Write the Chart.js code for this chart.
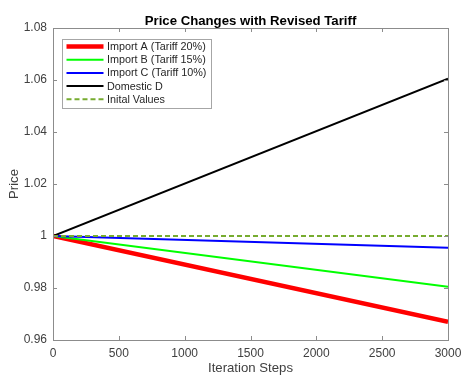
<!DOCTYPE html>
<html>
<head>
<meta charset="utf-8">
<script src="https://cdn.jsdelivr.net/npm/chart.js@4/dist/chart.umd.min.js"></script>
<style>
  html, body { margin: 0; padding: 0; background: #ffffff; }
  #wrap { width: 474px; height: 380px; }
</style>
</head>
<body>
<div id="wrap"><canvas id="c" width="474" height="380"></canvas></div>
<script>
// ---- data ----
const iterationSteps = [0, 3000];
const importA   = [1.0000, 0.9670];
const importB   = [1.0000, 0.9805];
const importC   = [1.0000, 0.9955];
const domesticD = [1.0000, 1.0605];
const initialValues = [1.0000, 1.0000];

const seriesLabels = ['Import A (Tariff 20%)', 'Import B (Tariff 15%)', 'Import C (Tariff 10%)', 'Domestic D', 'Inital Values'];
const xTickValues = [0, 500, 1000, 1500, 2000, 2500, 3000];
const yTickValues = [0.96, 0.98, 1, 1.02, 1.04, 1.06, 1.08];
const chartTitle = 'Price Changes with Revised Tariff';
const xTitle = 'Iteration Steps';
const yTitle = 'Price';

const FONT = "'Liberation Sans', Arial, Helvetica, sans-serif";
const AXIS_COLOR = '#8c8c8c';
const TEXT_COLOR = '#404040';

function pts(ys) { return iterationSteps.map((x, i) => ({ x: x, y: ys[i] })); }

const datasets = [
  { label: seriesLabels[0], data: pts(importA),   borderColor: '#ff0000', borderWidth: 4.5, order: 5 },
  { label: seriesLabels[1], data: pts(importB),   borderColor: '#00ff00', borderWidth: 2, order: 4 },
  { label: seriesLabels[2], data: pts(importC),   borderColor: '#0000ff', borderWidth: 2, order: 3 },
  { label: seriesLabels[3], data: pts(domesticD), borderColor: '#000000', borderWidth: 2, order: 2 },
  { label: seriesLabels[4], data: pts(initialValues), borderColor: '#77ac30', borderWidth: 2, borderDash: [5, 3], order: 1 }
].map(d => Object.assign({ pointRadius: 0, fill: false, tension: 0, borderCapStyle: 'butt' }, d));

const frameAndLegend = {
  id: 'frameAndLegend',
  afterDatasetsDraw(chart) {
    const ctx = chart.ctx, a = chart.chartArea;
    const xs = chart.scales.x, ys = chart.scales.y;
    ctx.save();
    // box
    ctx.strokeStyle = AXIS_COLOR;
    ctx.lineWidth = 1;
    ctx.strokeRect(Math.round(a.left) + 0.5, Math.round(a.top) + 0.5,
                   Math.round(a.right - a.left), Math.round(a.bottom - a.top));
    // inward ticks
    const tl = 4;
    ctx.beginPath();
    xTickValues.forEach(v => {
      const px = Math.round(xs.getPixelForValue(v)) + 0.5;
      ctx.moveTo(px, a.bottom); ctx.lineTo(px, a.bottom - tl);
      ctx.moveTo(px, a.top); ctx.lineTo(px, a.top + tl);
    });
    yTickValues.forEach(v => {
      const py = Math.round(ys.getPixelForValue(v)) + 0.5;
      ctx.moveTo(a.left, py); ctx.lineTo(a.left + tl, py);
      ctx.moveTo(a.right, py); ctx.lineTo(a.right - tl, py);
    });
    ctx.stroke();

    // legend
    const lx = Math.round(a.left) + 9.5, ly = Math.round(a.top) + 11.5;
    const lw = 149, lh = 69;
    ctx.fillStyle = '#ffffff';
    ctx.fillRect(lx, ly, lw, lh);
    ctx.strokeStyle = '#a6a6a6';
    ctx.strokeRect(lx, ly, lw, lh);
    ctx.font = '10.8px ' + FONT;
    ctx.textBaseline = 'middle';
    ctx.textAlign = 'left';
    chart.data.datasets.forEach((d, i) => {
      const cy = ly + 7 + i * 13.2;
      ctx.beginPath();
      ctx.strokeStyle = d.borderColor;
      ctx.lineWidth = d.borderWidth;
      ctx.setLineDash(d.borderDash || []);
      ctx.moveTo(lx + 4, cy); ctx.lineTo(lx + 41, cy);
      ctx.stroke();
      ctx.setLineDash([]);
      ctx.fillStyle = '#262626';
      ctx.fillText(d.label, lx + 44.5, cy + 0.5);
    });

    // title
    ctx.font = 'bold 13.2px ' + FONT;
    ctx.fillStyle = '#000000';
    ctx.textAlign = 'center';
    ctx.textBaseline = 'alphabetic';
    ctx.fillText(chartTitle, (a.left + a.right) / 2, 24.5);
    ctx.restore();
  }
};

new Chart(document.getElementById('c'), {
  type: 'line',
  data: { datasets: datasets },
  options: {
    responsive: false,
    animation: false,
    layout: { padding: { top: 28, right: 26, left: 0, bottom: 0 } },
    plugins: { legend: { display: false }, title: { display: false }, tooltip: { enabled: false } },
    scales: {
      x: {
        type: 'linear', min: 0, max: 3000,
        afterBuildTicks: s => { s.ticks = xTickValues.map(v => ({ value: v })); },
        afterFit: s => { s.height = 40; },
        grid: { display: false, drawTicks: false },
        border: { display: false },
        ticks: { color: TEXT_COLOR, font: { family: FONT, size: 12 }, padding: 6, maxRotation: 0, autoSkip: false,
                 callback: v => String(v) },
        title: { display: true, text: xTitle, color: TEXT_COLOR, font: { family: FONT, size: 13.2 }, padding: { top: 0, bottom: 4 } }
      },
      y: {
        type: 'linear', min: 0.96, max: 1.08,
        afterBuildTicks: s => { s.ticks = yTickValues.map(v => ({ value: v })); },
        afterFit: s => { s.width = 53; },
        grid: { display: false, drawTicks: false },
        border: { display: false },
        ticks: { color: TEXT_COLOR, font: { family: FONT, size: 12 }, padding: 6, autoSkip: false,
                 callback: v => String(Math.round(v * 100) / 100) },
        title: { display: true, text: yTitle, color: TEXT_COLOR, font: { family: FONT, size: 13.2 }, padding: { top: 6, bottom: 0 } }
      }
    }
  },
  plugins: [frameAndLegend]
});
</script>
</body>
</html>
